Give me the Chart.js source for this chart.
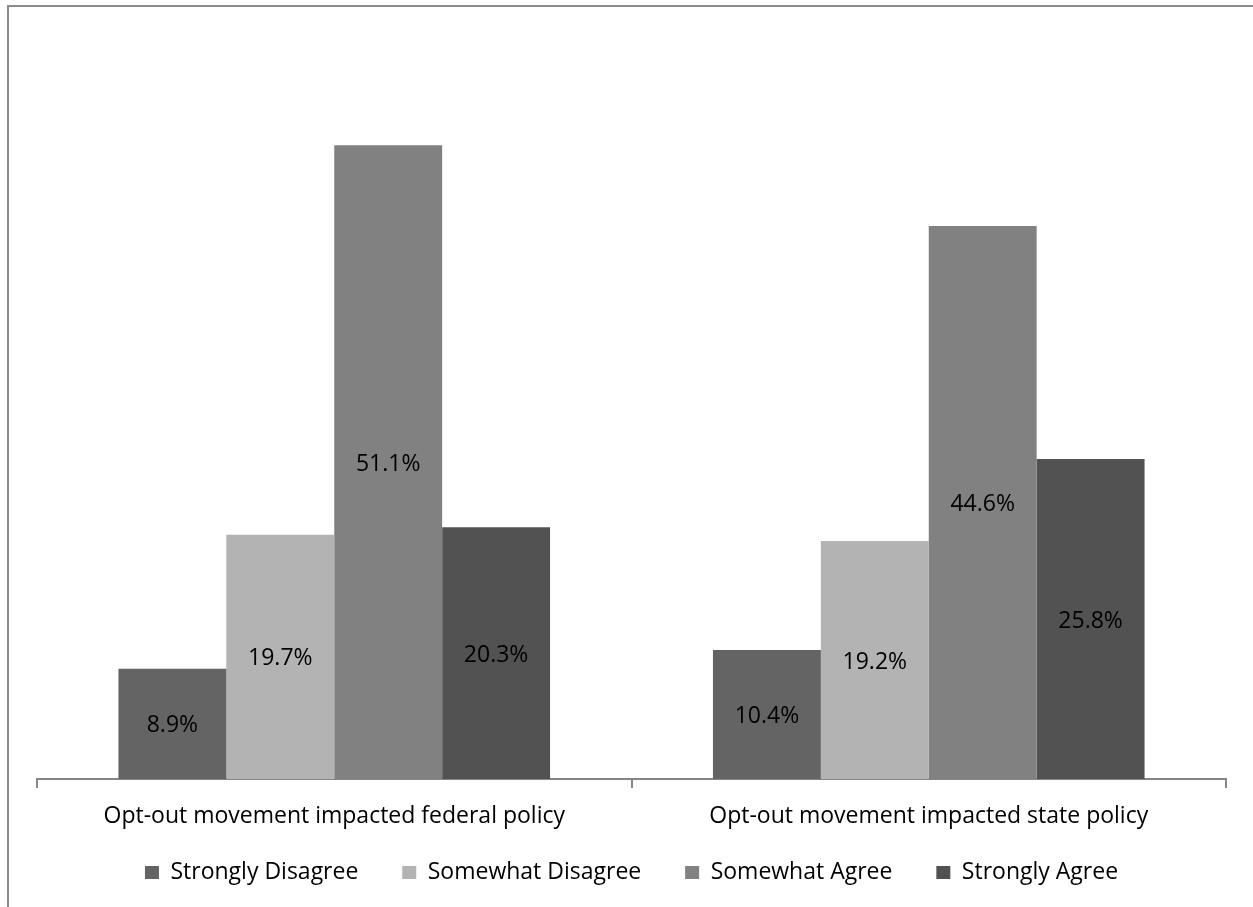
<!DOCTYPE html>
<html lang="en">
<head>
    <meta charset="UTF-8">
    <title>Opt-out movement impact</title>
    <style>
        html, body { margin: 0; padding: 0; background: #fff; }
        #wrap { width: 1253px; height: 907px; }
    </style>
</head>
<body>
<div id="wrap">
    <canvas id="myBarChart" width="1253" height="907"></canvas>
</div>

<script src="https://cdn.jsdelivr.net/npm/chart.js"></script>
<script>
    var categories = ['Opt-out movement impacted federal policy', 'Opt-out movement impacted state policy'];
    var seriesNames = ['Strongly Disagree', 'Somewhat Disagree', 'Somewhat Agree', 'Strongly Agree'];
    var stronglyDisagree = [8.9, 10.4];
    var somewhatDisagree = [19.7, 19.2];
    var somewhatAgree = [51.1, 44.6];
    var stronglyAgree = [20.3, 25.8];
    var seriesColors = ['#646464', '#b3b3b3', '#818181', '#525252'];

    var fontFamily = "'Open Sans', sans-serif";
    var fontSize = 23;

    // grey frame round the chart (top and left edges only visible)
    var framePlugin = {
        id: 'frame',
        beforeDraw: function(chart) {
            var ctx = chart.ctx;
            ctx.save();
            ctx.fillStyle = '#ffffff';
            ctx.fillRect(0, 0, chart.width, chart.height);
            ctx.strokeStyle = '#8c8c8c';
            ctx.lineWidth = 2;
            ctx.beginPath();
            ctx.moveTo(8, chart.height);
            ctx.lineTo(8, 6);
            ctx.lineTo(chart.width, 6);
            ctx.stroke();
            ctx.restore();
        }
    };

    // value labels in the middle of each bar
    var valueLabels = {
        id: 'valueLabels',
        afterDatasetsDraw: function(chart) {
            var ctx = chart.ctx;
            ctx.save();
            ctx.font = fontSize + 'px ' + fontFamily;
            ctx.fillStyle = '#000000';
            ctx.textAlign = 'center';
            ctx.textBaseline = 'middle';
            chart.data.datasets.forEach(function(ds, i) {
                var meta = chart.getDatasetMeta(i);
                meta.data.forEach(function(bar, j) {
                    var y = (bar.y + bar.base) / 2 + 2;
                    ctx.fillText(ds.data[j].toFixed(1) + '%', bar.x, y);
                });
            });
            ctx.restore();
        }
    };

    var allValues = [stronglyDisagree, somewhatDisagree, somewhatAgree, stronglyAgree];
    var datasets = seriesNames.map(function(name, i) {
        return {
            label: name,
            data: allValues[i],
            backgroundColor: seriesColors[i],
            borderWidth: 0,
            categoryPercentage: 0.726,
            barPercentage: 1.0
        };
    });

    var ctx = document.getElementById('myBarChart').getContext('2d');
    var myBarChart = new Chart(ctx, {
        type: 'bar',
        data: { labels: categories, datasets: datasets },
        options: {
            responsive: false,
            animation: false,
            layout: { padding: { left: 37, right: 27, top: 35, bottom: 13 } },
            plugins: {
                tooltip: { enabled: false },
                legend: {
                    position: 'bottom',
                    labels: {
                        boxWidth: 14,
                        boxHeight: 13,
                        padding: 20,
                        color: '#000000',
                        font: { family: fontFamily, size: fontSize },
                        // trailing spaces widen the gap between legend entries
                        generateLabels: function(chart) {
                            var items = Chart.defaults.plugins.legend.labels.generateLabels(chart);
                            items.forEach(function(item, i) {
                                if (i < items.length - 1) item.text = item.text + '    ';
                            });
                            return items;
                        }
                    }
                }
            },
            scales: {
                y: { display: false, min: 0, max: 60 },
                x: {
                    afterFit: function(scale) { scale.height = 62; },
                    grid: {
                        drawOnChartArea: false,
                        drawTicks: true,
                        tickLength: 9,
                        color: '#868686',
                        lineWidth: 2
                    },
                    border: { display: true, color: '#868686', width: 2 },
                    ticks: {
                        padding: 15,
                        color: '#000000',
                        font: { family: fontFamily, size: fontSize }
                    }
                }
            }
        },
        plugins: [framePlugin, valueLabels]
    });
</script>
</body>
</html>
